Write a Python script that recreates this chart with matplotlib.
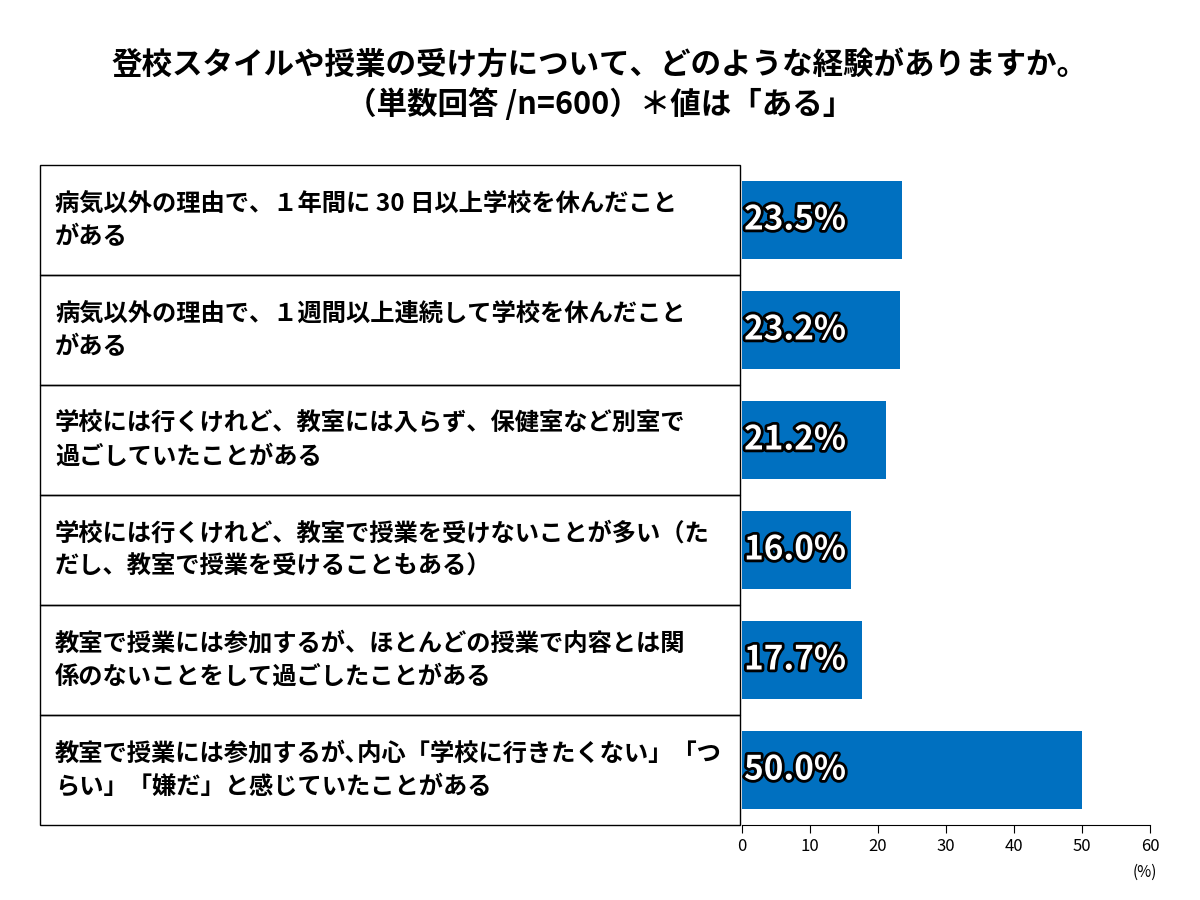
import matplotlib
matplotlib.use("Agg")
import matplotlib.pyplot as plt
import matplotlib.patheffects as pe
from matplotlib.patches import Rectangle

plt.rcParams["font.family"] = "Noto Sans CJK JP"

categories = [
    "病気以外の理由で、１年間に 30 日以上学校を休んだこと\nがある",
    "病気以外の理由で、１週間以上連続して学校を休んだこと\nがある",
    "学校には行くけれど、教室には入らず、保健室など別室で\n過ごしていたことがある",
    "学校には行くけれど、教室で授業を受けないことが多い（た\nだし、教室で授業を受けることもある）",
    "教室で授業には参加するが、ほとんどの授業で内容とは関\n係のないことをして過ごしたことがある",
    "教室で授業には参加するが､内心「学校に行きたくない」「つ\nらい」「嫌だ」と感じていたことがある",
]
values = [23.5, 23.2, 21.2, 16.0, 17.7, 50.0]
ticks = [0, 10, 20, 30, 40, 50, 60]
title = "登校スタイルや授業の受け方について、どのような経験がありますか。\n（単数回答 /n=600）＊値は「ある」"

W, H = 1200, 900
fig = plt.figure(figsize=(12, 9), dpi=100)
fig.text(0.5, 1 - 85 / H, title, ha="center", va="center", fontsize=22,
         fontweight="bold", linespacing=1.3)

top, bot = 165, 825
ax = fig.add_axes([742 / W, 1 - bot / H, (1150 - 742) / W, (bot - top) / H])
n = len(values)
ypos = list(range(n))
ax.barh(ypos, values, height=0.71, color="#0070c0")
ax.set_ylim(n - 0.5, -0.5)
ax.set_xlim(0, 60)
for y, v in zip(ypos, values):
    ax.text(0.3, y, f"{v:.1f}%", va="center", ha="left", fontsize=24,
            fontweight="bold", color="white",
            path_effects=[pe.withStroke(linewidth=4, foreground="black")])
for s in ["top", "right", "left"]:
    ax.spines[s].set_visible(False)
ax.set_yticks([])
ax.set_xticks(ticks)
ax.tick_params(axis="x", labelsize=12, length=6)
fig.text(1145 / W, 1 - 872 / H, "(%)", ha="center", va="center", fontsize=11)

rowh = (bot - top) / n
for i, c in enumerate(categories):
    y0 = top + i * rowh
    fig.add_artist(Rectangle((40 / W, 1 - (y0 + rowh) / H), 700 / W, rowh / H,
                             transform=fig.transFigure, fill=False,
                             edgecolor="black", linewidth=1))
    fig.text(55 / W, 1 - (y0 + rowh / 2) / H, c, ha="left", va="center",
             fontsize=17.5, fontweight="bold", linespacing=1.5)

fig.savefig("out.png", dpi=100)
